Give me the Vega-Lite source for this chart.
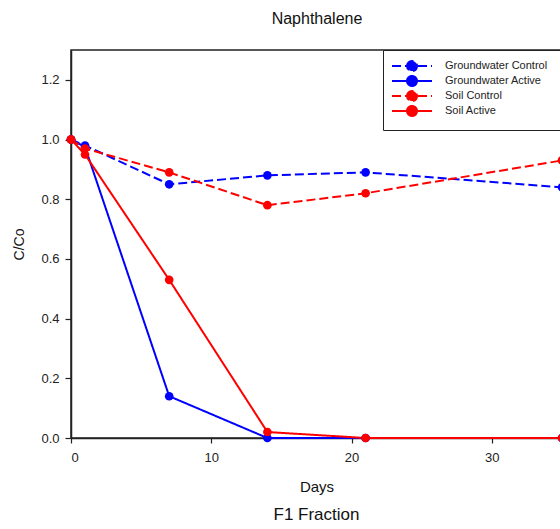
{
  "$schema": "https://vega.github.io/schema/vega-lite/v6.json",
  "width": 491,
  "height": 388,
  "autosize": {"type": "none"},
  "padding": {"left": 71, "top": 50, "right": 0, "bottom": 91},
  "background": "white",
  "config": {
    "font": "Liberation Sans",
    "view": {"stroke": "#222222", "strokeWidth": 1.5},
    "axis": {
      "grid": false,
      "domainColor": "#222222",
      "domainWidth": 1.5,
      "tickColor": "#222222",
      "tickWidth": 1.2,
      "labelColor": "#222222",
      "titleColor": "#111111",
      "labelFontSize": 13,
      "titleFontWeight": "normal"
    },
    "legend": {
      "orient": "none",
      "legendX": 312,
      "legendY": 0,
      "padding": 10,
      "strokeColor": "#222222",
      "fillColor": "white",
      "symbolType": "M-4,0H4M-1,0C-1,-0.552,-0.552,-1,0,-1C0.552,-1,1,-0.552,1,0C1,0.552,0.552,1,0,1C-0.552,1,-1,0.552,-1,0Z",
      "symbolSize": 100,
      "symbolStrokeWidth": 2,
      "symbolOffset": 13,
      "labelOffset": 27,
      "labelFontSize": 11,
      "labelColor": "#222222",
      "rowPadding": -4.5
    }
  },
  "title": {
    "text": "F1 Fraction",
    "orient": "bottom",
    "anchor": "middle",
    "fontSize": 17,
    "fontWeight": "normal",
    "color": "#111111",
    "offset": 13
  },
  "data": {
    "values": [
      {"series": "Groundwater Control", "day": 0, "c": 1.0},
      {"series": "Groundwater Control", "day": 1, "c": 0.98},
      {"series": "Groundwater Control", "day": 7, "c": 0.85},
      {"series": "Groundwater Control", "day": 14, "c": 0.88},
      {"series": "Groundwater Control", "day": 21, "c": 0.89},
      {"series": "Groundwater Control", "day": 35, "c": 0.84},
      {"series": "Groundwater Active", "day": 0, "c": 1.0},
      {"series": "Groundwater Active", "day": 1, "c": 0.975},
      {"series": "Groundwater Active", "day": 7, "c": 0.14},
      {"series": "Groundwater Active", "day": 14, "c": 0.0},
      {"series": "Groundwater Active", "day": 21, "c": 0.0},
      {"series": "Groundwater Active", "day": 35, "c": 0.0},
      {"series": "Soil Control", "day": 0, "c": 1.0},
      {"series": "Soil Control", "day": 1, "c": 0.97},
      {"series": "Soil Control", "day": 7, "c": 0.89},
      {"series": "Soil Control", "day": 14, "c": 0.78},
      {"series": "Soil Control", "day": 21, "c": 0.82},
      {"series": "Soil Control", "day": 35, "c": 0.93},
      {"series": "Soil Active", "day": 0, "c": 1.0},
      {"series": "Soil Active", "day": 1, "c": 0.95},
      {"series": "Soil Active", "day": 7, "c": 0.53},
      {"series": "Soil Active", "day": 14, "c": 0.02},
      {"series": "Soil Active", "day": 21, "c": 0.0},
      {"series": "Soil Active", "day": 35, "c": 0.0}
    ]
  },
  "encoding": {
    "y": {
      "field": "c",
      "type": "quantitative",
      "scale": {"domain": [0, 1.3], "nice": false, "zero": false},
      "axis": {
        "title": "C/Co",
        "titleFontSize": 14,
        "titlePadding": 14,
        "values": [0, 0.2, 0.4, 0.6, 0.8, 1.0, 1.2],
        "format": ".1f",
        "tickSize": 6,
        "labelPadding": 6
      }
    },
    "color": {
      "field": "series",
      "type": "nominal",
      "scale": {
        "domain": ["Groundwater Control", "Groundwater Active", "Soil Control", "Soil Active"],
        "range": ["#0000ff", "#0000ff", "#ff0000", "#ff0000"]
      },
      "legend": {
        "title": null,
        "labelExpr": "datum.label + '\u2800\u2800\u2800\u2800'",
        "encode": {"symbols": {"update": {"fill": {"scale": "color", "field": "value"}}}}
      }
    },
    "strokeDash": {
      "field": "series",
      "type": "nominal",
      "scale": {
        "domain": ["Groundwater Control", "Groundwater Active", "Soil Control", "Soil Active"],
        "range": [[9, 4], [1, 0], [9, 4], [1, 0]]
      },
      "legend": {"title": null, "labelExpr": "datum.label + '\u2800\u2800\u2800\u2800'"}
    }
  },
  "layer": [
    {
      "mark": {"type": "line", "strokeWidth": 2},
      "encoding": {
        "x": {
          "field": "day",
          "type": "quantitative",
          "scale": {"domain": [0, 35], "nice": false},
          "axis": {
            "title": "Days",
            "titleFontSize": 15,
            "titlePadding": 15,
            "values": [0, 10, 20, 30],
            "tickSize": 5,
            "labelPadding": 8
          }
        }
      }
    },
    {
      "mark": {"type": "point", "filled": true, "size": 75, "opacity": 1, "shape": "circle"},
      "encoding": {
        "x": {
          "field": "day",
          "type": "quantitative",
          "scale": {"domain": [0, 35], "nice": false},
          "axis": {
            "orient": "top",
            "title": "Naphthalene",
            "titleFontSize": 16,
            "titlePadding": 24,
            "domain": false,
            "ticks": false,
            "labels": false
          }
        }
      }
    }
  ],
  "resolve": {"axis": {"x": "independent"}}
}
